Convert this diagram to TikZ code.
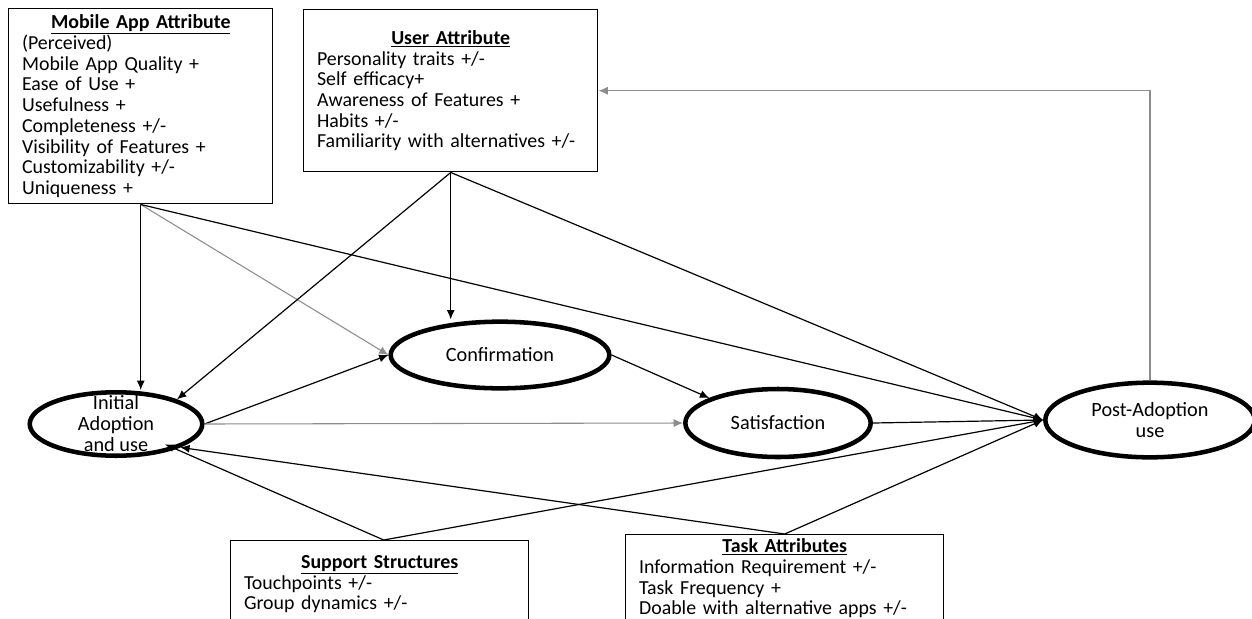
\documentclass[tikz,border=0pt]{standalone}
\usepackage{fontspec}
\setmainfont{Carlito}
\usetikzlibrary{shapes.geometric,arrows.meta}
\setlength{\parindent}{0pt}

\tikzset{every picture/.style={line width=0.75pt}}
\tikzset{
  attrbox/.style={draw, line width=1.1pt, rectangle, anchor=north west, align=left,
    inner xsep=10pt, inner ysep=4.5pt, font=\fontsize{14.9}{15.55}\selectfont},
  stage/.style={draw, ellipse, line width=3.4pt, inner sep=0pt, align=center,
    font=\fontsize{15.2}{15.75}\selectfont},
  link/.style={-{Latex[length=7pt,width=6pt]}, line width=0.9pt},
  faintlink/.style={link, draw=black!45, line width=0.8pt},
}
\newcommand{\boxtitle}[1]{\makebox[\linewidth][c]{\underline{\textbf{#1}}}}

\begin{document}
\begin{tikzpicture}[x=0.75pt,y=0.75pt,yscale=-1,xscale=1]
	\useasboundingbox (0,0) rectangle (1252,618);

	% Text Node
	\node[attrbox, text width=178pt] (mob) at (8,8) {\boxtitle{Mobile App Attribute}\\(Perceived)\\Mobile App Quality +\\Ease of Use +\\Usefulness +\\Completeness +/-\\Visibility of Features +\\Customizability +/-\\Uniqueness +};
	% Text Node
	\node[attrbox, text width=200.5pt, minimum height=121.5pt] (user) at (303,9) {\boxtitle{User Attribute}\\Personality traits +/-\\Self efficacy+\\Awareness of Features +\\Habits +/-\\Familiarity with alternatives +/-};
	% Text Node
	\node[attrbox, text width=203.5pt, inner ysep=11pt] (sup) at (230,540) {\boxtitle{Support Structures}\\Touchpoints +/-\\Group dynamics +/-\rule[-14pt]{0pt}{14pt}};
	% Text Node
	\node[attrbox, text width=218.5pt, inner ysep=3pt] (task) at (625,534) {\boxtitle{Task Attributes}\\Information Requirement +/-\\Task Frequency +\\Doable with alternative apps +/-\rule[-14pt]{0pt}{14pt}};

	%Shape: Ellipse
	\node[stage, minimum width=129.4pt, minimum height=47.6pt, inner ysep=-4.6pt] (init) at (116,424) {Initial\\Adoption\\and use};
	%Shape: Ellipse
	\node[stage, minimum width=164pt, minimum height=50pt] (conf) at (500,355) {Confirmation};
	%Shape: Ellipse
	\node[stage, minimum width=139pt, minimum height=51pt] (sat) at (778,423) {Satisfaction};
	%Shape: Ellipse
	\node[stage, minimum width=157pt, minimum height=56pt] (post) at (1150,420) {Post-Adoption\\use};

	%Straight Lines
	\draw[link] (mob.south) -- (mob.south |- init.north);
	\draw[faintlink] (mob.south) -- (conf.west);
	\draw[link] (mob.south) -- (post.west);
	\draw[link] (user.south) -- (init.22);
	\draw[link] (user.south) -- (user.south |- conf.north);
	\draw[link] (user.south) -- (post.west);
	\draw[link] (init.east) -- (conf.west);
	\draw[faintlink] (init.east) -- (sat.west);
	\draw[link] (conf.east) -- (sat.160);
	\draw[link] (sat.east) -- (post.west);
	\draw[link] ([xshift=3pt]sup.north) -- ([yshift=-6pt]init.-30);
	\draw[link] ([xshift=3pt]sup.north) -- (post.west);
	\draw[link] (task.north) -- (init.-20);
	\draw[link] (task.north) -- (post.west);
	%Feedback
	\draw[faintlink] (post.north) |- (user.east);

\end{tikzpicture}
\end{document}
